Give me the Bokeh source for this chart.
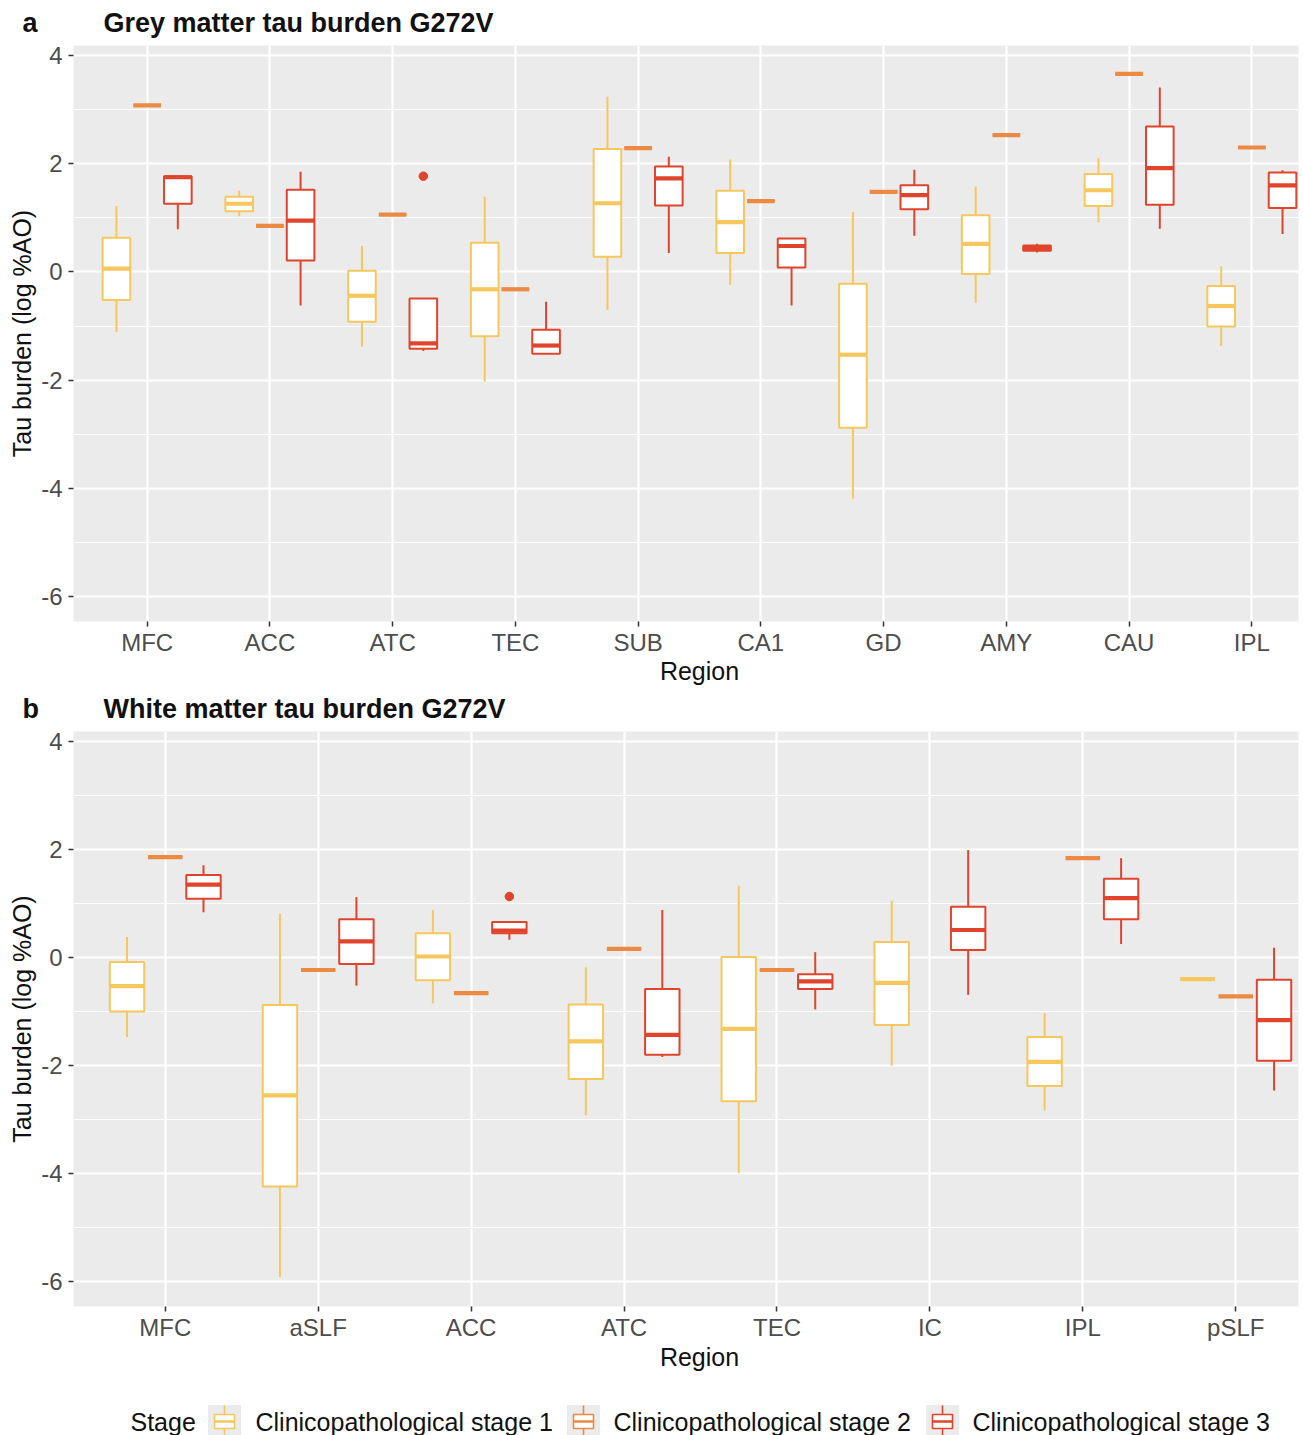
import numpy as np
from bokeh.plotting import figure
from bokeh.models import Range1d, FixedTicker, ColumnDataSource
from bokeh.layouts import column, row
from bokeh.embed import file_html
from bokeh.resources import INLINE
from bokeh.core.properties import value

# ---------------- data ----------------
STAGES = ["Clinicopathological stage 1", "Clinicopathological stage 2", "Clinicopathological stage 3"]
STAGE_COLORS = ["#F6C75D", "#EC8943", "#E0442D"]

grey_regions = ["MFC", "ACC", "ATC", "TEC", "SUB", "CA1", "GD", "AMY", "CAU", "IPL"]
grey_s1_min = [-1.11, 1.03, -1.38, -2.03, -0.70, -0.24, -4.19, -0.57, 0.92, -1.37]
grey_s1_q1 = [-0.52, 1.12, -0.92, -1.19, 0.28, 0.35, -2.88, -0.04, 1.22, -1.01]
grey_s1_med = [0.06, 1.26, -0.44, -0.32, 1.27, 0.92, -1.53, 0.52, 1.51, -0.63]
grey_s1_q3 = [0.63, 1.39, 0.02, 0.54, 2.27, 1.50, -0.22, 1.05, 1.81, -0.26]
grey_s1_max = [1.22, 1.50, 0.48, 1.39, 3.24, 2.08, 1.11, 1.58, 2.10, 0.10]
grey_s2 = [3.08, 0.85, 1.06, -0.32, 2.29, 1.31, 1.48, 2.53, 3.66, 2.30]
grey_s3_min = [0.79, -0.62, -1.46, -1.51, 0.35, -0.62, 0.67, 0.36, 0.80, 0.70]
grey_s3_q1 = [1.26, 0.21, -1.42, -1.51, 1.23, 0.08, 1.16, 0.39, 1.24, 1.18]
grey_s3_med = [1.75, 0.95, -1.32, -1.36, 1.73, 0.48, 1.42, 0.44, 1.92, 1.60]
grey_s3_q3 = [1.77, 1.52, -0.49, -1.07, 1.95, 0.62, 1.60, 0.49, 2.69, 1.84]
grey_s3_max = [1.77, 1.85, -0.49, -0.55, 2.13, 0.62, 1.89, 0.52, 3.41, 1.88]
grey_s3_out_region = ["ATC"]
grey_s3_out_value = [1.77]

white_regions = ["MFC", "aSLF", "ACC", "ATC", "TEC", "IC", "IPL", "pSLF"]
white_s1_min = [-1.47, -5.92, -0.85, -2.92, -3.99, -2.00, -2.83, -0.40]
white_s1_q1 = [-1.00, -4.24, -0.42, -2.25, -2.66, -1.25, -2.38, -0.40]
white_s1_med = [-0.53, -2.55, 0.02, -1.55, -1.32, -0.47, -1.93, -0.40]
white_s1_q3 = [-0.08, -0.88, 0.45, -0.87, 0.01, 0.29, -1.47, -0.40]
white_s1_max = [0.38, 0.81, 0.88, -0.18, 1.33, 1.05, -1.03, -0.40]
white_s2 = [1.86, -0.23, -0.66, 0.16, -0.23, None, 1.84, -0.72]
white_s3_min = [0.84, -0.52, 0.33, -1.84, -0.96, -0.69, 0.25, -2.46]
white_s3_q1 = [1.09, -0.12, 0.45, -1.80, -0.58, 0.14, 0.71, -1.91]
white_s3_med = [1.35, 0.30, 0.50, -1.43, -0.44, 0.51, 1.10, -1.16]
white_s3_q3 = [1.53, 0.71, 0.66, -0.58, -0.31, 0.94, 1.46, -0.41]
white_s3_max = [1.71, 1.12, 0.66, 0.88, 0.10, 1.99, 1.84, 0.18]
white_s3_out_region = ["ACC"]
white_s3_out_value = [1.13]

y_ticks = [-6, -4, -2, 0, 2, 4]
y_minor = [-5, -3, -1, 1, 3]
X_TITLE = "Region"
Y_TITLE = "Tau burden (log %AO)"

FONT = "Liberation Sans"
DODGE = 0.25
BOXW = 0.225
W = 1303


def style_fig(p, regions):
    n = len(regions)
    p.background_fill_color = "#EBEBEB"
    p.border_fill_color = "white"
    p.outline_line_color = None
    p.xaxis.ticker = FixedTicker(ticks=list(range(1, n + 1)))
    p.xaxis.major_label_overrides = {i + 1: r for i, r in enumerate(regions)}
    p.yaxis.ticker = FixedTicker(ticks=y_ticks, minor_ticks=y_minor)
    p.yaxis.major_label_overrides = {t: str(t) for t in y_ticks}
    for ax in (p.xaxis, p.yaxis):
        ax.axis_line_color = None
        ax.major_tick_line_color = "#333333"
        ax.major_tick_line_width = 1.5
        ax.major_tick_out = 5
        ax.major_tick_in = 0
        ax.minor_tick_line_color = None
        ax.major_label_text_font = FONT
        ax.major_label_text_font_size = "24px"
        ax.major_label_text_color = "#4D4D4D"
        ax.axis_label_text_font = FONT
        ax.axis_label_text_font_size = "25px"
        ax.axis_label_text_font_style = "normal"
        ax.axis_label_text_color = "#111111"
    p.xaxis.major_label_standoff = 2
    p.yaxis.major_label_standoff = 6
    p.yaxis.axis_label = Y_TITLE
    p.yaxis.axis_label_standoff = 2
    p.xgrid.grid_line_color = "white"
    p.xgrid.grid_line_width = 2.2
    p.ygrid.grid_line_color = "white"
    p.ygrid.grid_line_width = 2.2
    p.ygrid.minor_grid_line_color = "white"
    p.ygrid.minor_grid_line_width = 1.1


def draw_boxes(p, xs, lo, q1, med, q3, hi, color):
    keep = [i for i in range(len(xs)) if med[i] is not None]
    src = ColumnDataSource(dict(
        x=[xs[i] for i in keep], lo=[lo[i] for i in keep], q1=[q1[i] for i in keep],
        med=[med[i] for i in keep], q3=[q3[i] for i in keep], hi=[hi[i] for i in keep],
        x0=[xs[i] - BOXW / 2 for i in keep], x1=[xs[i] + BOXW / 2 for i in keep]))
    p.segment(x0="x", y0="lo", x1="x", y1="q1", source=src, line_color=color, line_width=2)
    p.segment(x0="x", y0="q3", x1="x", y1="hi", source=src, line_color=color, line_width=2)
    p.vbar(x="x", width=BOXW, bottom="q1", top="q3", source=src, fill_color="white",
           line_color=color, line_width=2)
    p.segment(x0="x0", y0="med", x1="x1", y1="med", source=src, line_color=color, line_width=4.2)


def draw_panel(p, regions, s1, s2, s3, out_reg, out_val):
    base = np.arange(1, len(regions) + 1)
    xs1 = list(base - DODGE)
    xs2 = list(base + 0.0)
    xs3 = list(base + DODGE)
    draw_boxes(p, xs1, *s1, STAGE_COLORS[0])
    draw_boxes(p, xs2, s2, s2, s2, s2, s2, STAGE_COLORS[1])
    draw_boxes(p, xs3, *s3, STAGE_COLORS[2])
    ox = [regions.index(r) + 1 + DODGE for r in out_reg]
    p.scatter(ox, out_val, size=8.5, fill_color=STAGE_COLORS[2], line_color=STAGE_COLORS[2])


def plain_fig(height):
    f = figure(width=W, height=height, x_range=Range1d(0, W), y_range=Range1d(0, height),
               output_backend="svg", toolbar_location=None, title=None,
               x_axis_location=None, y_axis_location=None, min_border=0)
    f.grid.visible = False
    f.outline_line_color = None
    f.background_fill_color = "white"
    f.border_fill_color = "white"
    return f


def add_title(f, letter, title, cy):
    f.text(x=[22, 103], y=[cy, cy], text=[letter, title], text_font=value(FONT),
           text_font_style=value("bold"), text_font_size=value("27px"), text_color="#111111",
           text_align=value("left"), text_baseline=value("middle"))


def add_xtitle(f, cy):
    f.text(x=[699], y=[cy], text=[X_TITLE], text_font=value(FONT),
           text_font_size=value("25px"), text_color="#111111",
           text_align=value("center"), text_baseline=value("middle"))


# ---------------- header a ----------------
ha = plain_fig(40)
add_title(ha, "a", "Grey matter tau burden G272V", 18)

# ---------------- panel a ----------------
pa = figure(width=W, height=618, x_range=Range1d(0.4, 10.38), y_range=Range1d(-6.46, 4.185),
            output_backend="svg", toolbar_location=None, title=None,
            min_border_left=73, min_border_right=5, min_border_top=5, min_border_bottom=37)
style_fig(pa, grey_regions)
draw_panel(pa, grey_regions,
           (grey_s1_min, grey_s1_q1, grey_s1_med, grey_s1_q3, grey_s1_max),
           grey_s2,
           (grey_s3_min, grey_s3_q1, grey_s3_med, grey_s3_q3, grey_s3_max),
           grey_s3_out_region, grey_s3_out_value)

# ---------------- x title a + header b ----------------
mid = plain_fig(67)
add_xtitle(mid, 55)
add_title(mid, "b", "White matter tau burden G272V", 17)

# ---------------- panel b ----------------
pb = figure(width=W, height=618, x_range=Range1d(0.4, 8.41), y_range=Range1d(-6.46, 4.185),
            output_backend="svg", toolbar_location=None, title=None,
            min_border_left=73, min_border_right=5, min_border_top=6, min_border_bottom=37)
style_fig(pb, white_regions)
draw_panel(pb, white_regions,
           (white_s1_min, white_s1_q1, white_s1_med, white_s1_q3, white_s1_max),
           white_s2,
           (white_s3_min, white_s3_q1, white_s3_med, white_s3_q3, white_s3_max),
           white_s3_out_region, white_s3_out_value)

# ---------------- x title b + legend ----------------
leg = plain_fig(92)
add_xtitle(leg, 79)
key_x = [224, 583, 942]
lab_x = [255, 613, 972]
cy = 14
leg.rect(x=key_x, y=[cy] * 3, width=33, height=33, fill_color="#EBEBEB", line_color=None)
leg.segment(x0=key_x, y0=[cy + 7] * 3, x1=key_x, y1=[cy + 16] * 3, line_color=STAGE_COLORS, line_width=1.6)
leg.segment(x0=key_x, y0=[cy - 7] * 3, x1=key_x, y1=[cy - 16] * 3, line_color=STAGE_COLORS, line_width=1.6)
leg.rect(x=key_x, y=[cy] * 3, width=20, height=14, fill_color="white", line_color=STAGE_COLORS, line_width=1.6)
leg.segment(x0=[k - 10 for k in key_x], y0=[cy] * 3, x1=[k + 10 for k in key_x], y1=[cy] * 3,
            line_color=STAGE_COLORS, line_width=2.6)
leg.text(x=[130] + lab_x, y=[cy] * 4, text=["Stage"] + STAGES, text_font=value(FONT),
         text_font_size=value("25px"), text_color="#111111", text_align=value("left"),
         text_baseline=value("middle"))

layout = column(row(ha), pa, row(mid), pb, row(leg), spacing=0)
open("out.html", "w").write(file_html(layout, INLINE))
